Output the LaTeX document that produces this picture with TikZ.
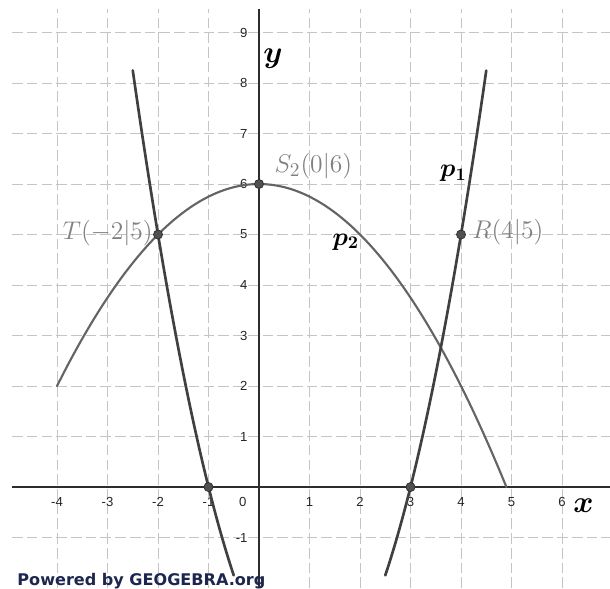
\documentclass[tikz,border=0pt]{standalone}
\usepackage{fontspec}
\usepackage{bm}
\newfontfamily\ticksf{Liberation Sans}
\newfontfamily\ggbsf{DejaVu Sans}
\definecolor{gridc}{RGB}{196,196,196}
\definecolor{axisc}{RGB}{45,45,45}
\definecolor{pone}{RGB}{64,64,64}
\definecolor{ptwo}{RGB}{100,100,100}
\definecolor{labc}{RGB}{128,128,128}
\definecolor{ptfill}{RGB}{80,80,80}
\definecolor{navy}{RGB}{28,38,78}
\tikzset{
  gridline/.style={draw=gridc, line width=0.55pt, dash pattern=on 6pt off 2.3pt},
  axisline/.style={draw=axisc, line width=1.4pt},
  curveone/.style={draw=pone, line width=1.5pt, line cap=round},
  curvetwo/.style={draw=ptwo, line width=1.2pt, line cap=round},
  tick/.style={font=\ticksf\fontsize{7.4}{8}\selectfont, text=black!85, inner sep=0pt},
  ptlabel/.style={font=\fontsize{15.5}{18}\selectfont, text=labc, inner sep=0pt},
  curvelabel/.style={font=\fontsize{14}{16}\selectfont, text=black, inner sep=0pt},
  axislabel/.style={font=\fontsize{19}{22}\selectfont, text=black, inner sep=0pt},
  dot/.style={circle, fill=ptfill, draw=axisc, line width=0.4pt, minimum size=0.18cm, inner sep=0pt}
}
\begin{document}
\begin{tikzpicture}[x=1cm,y=1cm]
\useasboundingbox (-5.129,-2.0) rectangle (6.950,9.644);
\begin{scope}
\clip (-4.89,-2.0) rectangle (6.950,9.465);
% grid
\foreach \i in {-4,...,6} \draw[gridline] (\i,-2.0) -- (\i,9.465);
\foreach \j in {-1,...,9} \draw[gridline] (-4.89,\j) -- (6.95,\j);
% x tick labels
\foreach \i in {-5,-4,-3,-2,-1,1,2,3,4,5,6}
  \node[tick] (xt\i) at (\i,-0.30) {\i};
\node[tick] (xt0) at (-0.32,-0.30) {0};
% y tick labels
\foreach \j in {-1,1,2,3,4,5,6,7,8,9}
  \node[tick, anchor=east] (yt\j) at (-0.22,\j) {\j};
% axes
\coordinate (xl) at (-4.89,0);
\coordinate (xr) at (6.95,0);
\coordinate (yb) at (0,-2.0);
\coordinate (yt) at (0,9.465);
\draw[axisline] (xl) -- (xr);
\draw[axisline] (yb) -- (yt);
% curves
\draw[curvetwo] plot[domain=-4:4.9, samples=80, smooth] (\x,{6-\x*\x/4});
\draw[curveone] plot[domain=-2.5:-0.5, samples=40, smooth] (\x,{\x*\x-2*\x-3});
\draw[curveone] plot[domain=2.5:4.5, samples=40, smooth] (\x,{\x*\x-2*\x-3});
\end{scope}
% points
\node[dot] (T) at (-2,5) {};
\node[dot] (S) at (0,6) {};
\node[dot] (R) at (4,5) {};
\node[dot] (N1) at (-1,0) {};
\node[dot] (N2) at (3,0) {};
% point labels
\node[ptlabel, anchor=east] (Tl) at (-2.10,5.03) {$T(-2|5)$};
\node[ptlabel, anchor=west] (Sl) at (0.30,6.36) {$S_2(0|6)$};
\node[ptlabel, anchor=west] (Rl) at (4.22,5.05) {$R(4|5)$};
% curve labels
\node[curvelabel, anchor=base west] (p1l) at (3.58,6.14) {$\bm{p_1}$};
\node[curvelabel, anchor=base west] (p2l) at (1.45,4.79) {$\bm{p_2}$};
% axis labels
\node[axislabel, anchor=base west] (xlab) at (6.22,-0.50) {$\bm{x}$};
\node[axislabel, anchor=base west] (ylab) at (0.08,8.40) {$\bm{y}$};
% watermark
\node[anchor=base west, inner sep=0pt, text=navy, font=\ggbsf\bfseries\fontsize{9.05}{10}\selectfont] (wm) at (-4.79,-1.94) {Powered by GEOGEBRA.org};
\end{tikzpicture}
\end{document}
